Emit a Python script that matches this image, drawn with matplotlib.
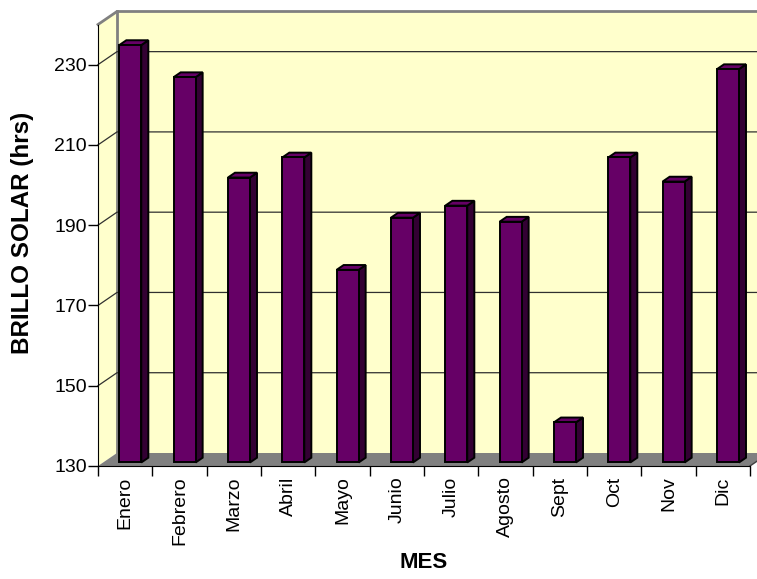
import numpy as np
import matplotlib.pyplot as plt
from matplotlib.patches import Polygon

plt.rcParams['font.family'] = ['Liberation Sans', 'DejaVu Sans']

meses = ["Enero", "Febrero", "Marzo", "Abril", "Mayo", "Junio",
         "Julio", "Agosto", "Sept", "Oct", "Nov", "Dic"]
brillo = [234, 226, 201, 206, 178, 191, 194, 190, 140, 206, 200, 228]
yticks = [130, 150, 170, 190, 210, 230]

ymin, ymax = 130, 240
n = len(meses)

fig = plt.figure(figsize=(7.57, 5.79), dpi=100)
W, H = 757, 579
ax = fig.add_axes([98 / W, (H - 466) / H, 652 / W, 441.5 / H])
ax.set_xlim(0, n)
ax.set_ylim(ymin, ymax)
ax.patch.set_visible(False)

# depth of the 3d box, in data units
px_x = 652 / n
px_y = 441.5 / (ymax - ymin)
DX = 19 / px_x
DY = 13 / px_y

wall = "#ffffcc"
frame = "#808080"

# side wall, back wall, floor
ax.add_patch(Polygon([(0, ymin), (0, ymax), (DX, ymax + DY), (DX, ymin + DY)],
                     closed=True, facecolor=wall, edgecolor="none", zorder=0, clip_on=False))
ax.add_patch(Polygon([(DX, ymin + DY), (DX, ymax + DY), (n + 1, ymax + DY), (n + 1, ymin + DY)],
                     closed=True, facecolor=wall, edgecolor="none", zorder=0, clip_on=False))
ax.add_patch(Polygon([(0, ymin), (n, ymin), (n + DX, ymin + DY), (DX, ymin + DY)],
                     closed=True, facecolor=frame, edgecolor="none", zorder=1, clip_on=False))
ax.plot([0, DX, n + 1], [ymax, ymax + DY, ymax + DY], color=frame, lw=2, clip_on=False, zorder=1)
ax.plot([DX, DX], [ymin + DY, ymax + DY], color=frame, lw=2, clip_on=False, zorder=1)
ax.plot([n, n + DX], [ymin, ymin + DY], color="#404040", lw=1, clip_on=False, zorder=1)

# gridlines on back wall and side wall
for v in yticks[1:]:
    ax.plot([0, DX, n + 1], [v, v + DY, v + DY], color="#303030", lw=0.9,
            clip_on=False, zorder=1)

# bars
f = 0.27
b = 0.37
w = 0.405
front = "#660066"
side = "#330033"
xs = np.arange(n) + 0.5 + f * DX
vals = np.array(brillo)
ax.bar(xs, vals - ymin, bottom=ymin + f * DY, width=w, color=front,
       edgecolor="black", lw=1.4, zorder=4)
for x, v in zip(xs, vals):
    x0, x1 = x - w / 2, x + w / 2
    y0 = ymin + f * DY
    yt = v + f * DY
    ax.add_patch(Polygon([(x1, y0), (x1 + b * DX, y0 + b * DY), (x1 + b * DX, yt + b * DY), (x1, yt)],
                         closed=True, facecolor=side, edgecolor="black", lw=1.4, zorder=3))
    ax.add_patch(Polygon([(x0, yt), (x0 + b * DX, yt + b * DY), (x1 + b * DX, yt + b * DY), (x1, yt)],
                         closed=True, facecolor=front, edgecolor="black", lw=1.4, zorder=3))

# axes
for s in ["top", "right"]:
    ax.spines[s].set_visible(False)
ax.spines["left"].set_color("black")
ax.spines["bottom"].set_color("black")
ax.spines["left"].set_zorder(5)
ax.spines["bottom"].set_zorder(5)

ax.set_yticks(yticks)
ax.tick_params(axis="y", direction="out", length=7, width=1, pad=1, labelsize=14)
ax.set_xticks(np.arange(n + 1))
ax.set_xticklabels([])
ax.tick_params(axis="x", which="major", direction="out", length=7, width=1)
ax.set_xticks(np.arange(n) + 0.5, minor=True)
ax.set_xticklabels(meses, minor=True, rotation=90, fontsize=14)
ax.tick_params(axis="x", which="minor", length=0, pad=7.5)

ax.set_ylabel("BRILLO SOLAR (hrs)", fontsize=17.5, fontweight="bold")
ax.yaxis.set_label_coords(-0.098, 0.528)
ax.set_xlabel("MES", fontsize=16, fontweight="bold")
ax.xaxis.set_label_coords(0.5, -0.195)

fig.savefig("out.png", dpi=100)
